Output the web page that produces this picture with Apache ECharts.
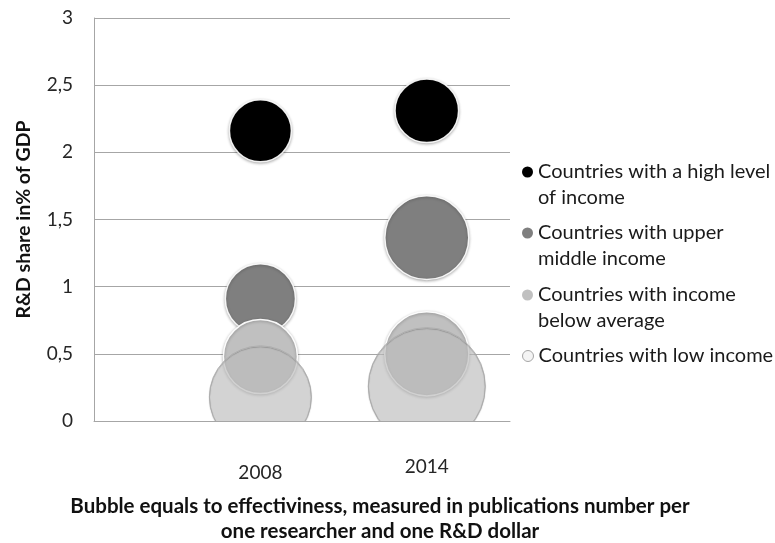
<!DOCTYPE html>
<html>
<head>
<meta charset="utf-8">
<script src="https://cdn.jsdelivr.net/npm/echarts@6/dist/echarts.min.js"></script>
<style>
  html, body { margin: 0; padding: 0; background: #ffffff; }
  #chart { width: 775px; height: 543px; }
</style>
</head>
<body>
<div id="chart"></div>
<script>
// Years placed along a hidden numeric x scale
const years = ['2008', '2014'];
const yearPos = [1, 2];

// R&D share in % of GDP per income group
const highIncome   = [2.16, 2.31];
const upperMiddle  = [0.91, 1.365];
const belowAverage = [0.48, 0.50];
const lowIncome    = [0.18, 0.26];

// Effectiveness (publications per researcher and R&D dollar) -> bubble area
const effHigh  = [9.6, 10.1];
const effUpper = [12.3, 17.6];
const effBelow = [13.7, 17.7];
const effLow   = [26.0, 34.2];

const seriesNames = [
  'Countries with a high level of income',
  'Countries with upper middle income',
  'Countries with income below average',
  'Countries with low income'
];
const legendText = [
  'Countries with a high level\nof income',
  'Countries with upper\nmiddle income',
  'Countries with income\nbelow average',
  'Countries with low income'
];
const yTicks = { min: 0, max: 3, step: 0.5 };

const FONT = 'Lato';
const GRID = { left: 94, right: 265, top: 18, bottom: 122 };

const fills = ['#000000', '#7f7f7f', '#c0c0c0', 'rgba(211,211,211,0.57)'];
const borders = ['rgba(255,255,255,0.9)', 'rgba(255,255,255,0.9)', 'rgba(255,255,255,0.95)', 'rgba(170,170,170,0.8)'];
const shadows = [3, 3, 3, 1];

function points(vals, eff) {
  return vals.map((v, i) => [yearPos[i], v, eff[i]]);
}
const groups = [
  points(highIncome, effHigh),
  points(upperMiddle, effUpper),
  points(belowAverage, effBelow),
  points(lowIncome, effLow)
];

const series = groups.map((data, k) => ({
  name: seriesNames[k],
  type: 'scatter',
  data: data,
  symbolSize: d => Math.sqrt(d[2]) * 20,
  z: 2 + k * 0.1,
  itemStyle: {
    color: fills[k],
    borderColor: borders[k],
    borderWidth: k === 3 ? 1 : 1.5,
    shadowBlur: shadows[k],
    shadowOffsetY: 1,
    shadowColor: 'rgba(0,0,0,0.3)',
    opacity: 1
  },
  emphasis: { disabled: true }
}));

// One legend block per series so the dot lines up with the first text line
const LH = 26;
const firstLineCenters = [172, 233, 295, 356];
const legends = seriesNames.map((name, k) => {
  const twoLines = legendText[k].indexOf('\n') >= 0;
  return {
    data: [{
      name: name,
      itemStyle: k === 3
        ? { color: '#f4f4f4', borderColor: '#a6a6a6', borderWidth: 1, shadowBlur: 0 }
        : { color: fills[k], borderWidth: 0, shadowBlur: 0 }
    }],
    orient: 'vertical',
    left: 522,
    top: firstLineCenters[k] - (twoLines ? 1.5 * LH : 0.5 * LH),
    padding: 0,
    icon: 'circle',
    itemWidth: 11,
    itemHeight: 11,
    selectedMode: false,
    formatter: () => (twoLines ? ' \n' : '') + legendText[k],
    textStyle: { fontFamily: FONT, fontSize: 20, color: '#1a1a1a', lineHeight: LH }
  };
});

const option = {
  animation: false,
  backgroundColor: '#ffffff',
  grid: GRID,
  title: {
    text: 'Bubble equals to effectiviness, measured in publications number per\none researcher and one R&D dollar',
    left: 380,
    textAlign: 'center',
    top: 494,
    padding: 0,
    textStyle: { fontFamily: FONT, fontSize: 20.5, fontWeight: 'bold', color: '#111111', lineHeight: 25 }
  },
  legend: legends,
  xAxis: {
    type: 'value',
    min: 0,
    max: 2.5,
    interval: 0.5,
    z: 20,
    axisLine: { show: true, lineStyle: { color: '#a6a6a6', width: 1 } },
    axisTick: { show: false },
    splitLine: { show: false },
    axisLabel: {
      margin: 36,
      fontFamily: FONT,
      fontSize: 19,
      color: '#262626',
      formatter: v => {
        const i = yearPos.indexOf(v);
        if (i < 0) return '';
        return (i === 0 ? '{a|' : '{b|') + years[i] + '}';
      },
      rich: {
        a: { fontFamily: FONT, fontSize: 19, color: '#262626', padding: [6, 0, 0, 0] },
        b: { fontFamily: FONT, fontSize: 19, color: '#262626', padding: [0, 0, 0, 0] }
      }
    }
  },
  yAxis: {
    type: 'value',
    min: yTicks.min,
    max: yTicks.max,
    interval: yTicks.step,
    name: 'R&D share in% of GDP',
    nameLocation: 'middle',
    nameGap: 60,
    nameTextStyle: { fontFamily: FONT, fontSize: 19.5, fontWeight: 'bold', color: '#111111' },
    axisLine: { show: true, lineStyle: { color: '#a6a6a6', width: 1 } },
    axisTick: { show: false },
    splitLine: { show: true, lineStyle: { color: '#a6a6a6', width: 1 } },
    axisLabel: {
      margin: 21,
      fontFamily: FONT,
      fontSize: 19,
      color: '#262626',
      formatter: v => String(v).replace('.', ',')
    }
  },
  // white band under the plot so bubbles stop at the zero line
  graphic: [{
    type: 'rect',
    z: 10,
    silent: true,
    shape: { x: GRID.left - 1, y: 543 - GRID.bottom + 0.5, width: 775 - GRID.left - GRID.right + 2, height: 34 },
    style: { fill: '#ffffff' }
  }],
  series: series
};

const chart = echarts.init(document.getElementById('chart'), null, { renderer: 'canvas' });
chart.setOption(option);
</script>
</body>
</html>
